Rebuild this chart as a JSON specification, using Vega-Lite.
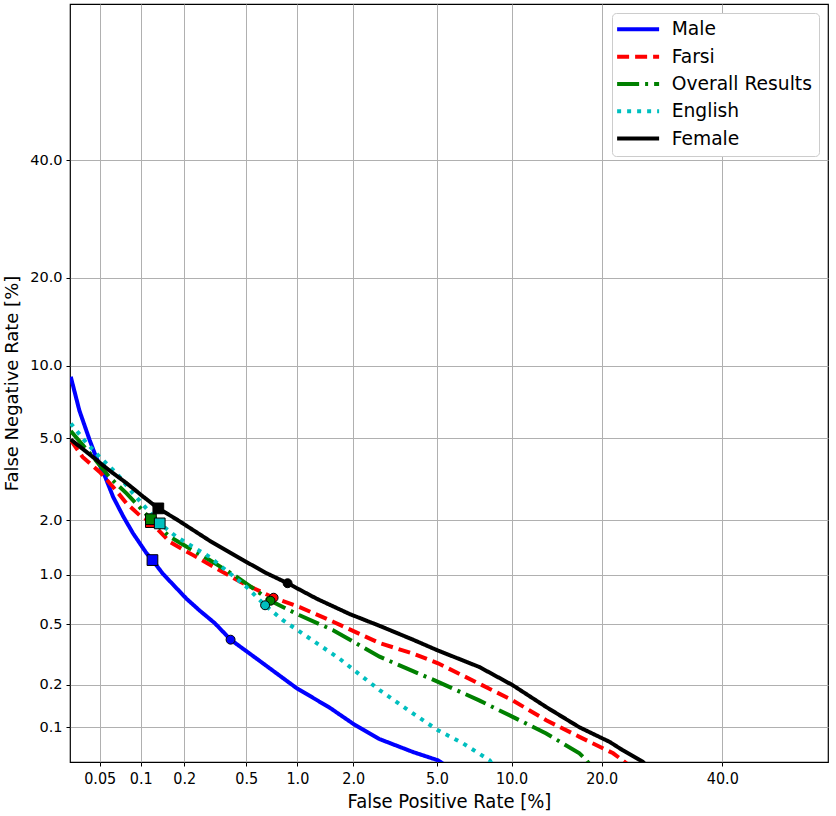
{
  "$schema": "https://vega.github.io/schema/vega-lite/v6.json",
  "width": 758,
  "height": 758,
  "autosize": {"type": "none"},
  "padding": {"left": 70, "top": 4, "right": 8, "bottom": 54},
  "background": "white",
  "config": {
    "view": {"stroke": "#000000", "strokeWidth": 1.2},
    "axis": {"grid": true, "gridColor": "#b0b0b0", "gridWidth": 1, "tickColor": "#000000", "tickSize": 4, "domain": false, "labelColor": "#000000", "titleColor": "#000000", "titleFontWeight": "normal"}
  },
  "datasets": {
    "curves": [
      {"series": "Male", "fpr": 0.030, "fnr": 9.05},
      {"series": "Male", "fpr": 0.035, "fnr": 6.6},
      {"series": "Male", "fpr": 0.042, "fnr": 4.9},
      {"series": "Male", "fpr": 0.047, "fnr": 4.1},
      {"series": "Male", "fpr": 0.055, "fnr": 3.3},
      {"series": "Male", "fpr": 0.063, "fnr": 2.63},
      {"series": "Male", "fpr": 0.075, "fnr": 2.08},
      {"series": "Male", "fpr": 0.088, "fnr": 1.70},
      {"series": "Male", "fpr": 0.110, "fnr": 1.32},
      {"series": "Male", "fpr": 0.121, "fnr": 1.21},
      {"series": "Male", "fpr": 0.143, "fnr": 1.01},
      {"series": "Male", "fpr": 0.207, "fnr": 0.72},
      {"series": "Male", "fpr": 0.253, "fnr": 0.61},
      {"series": "Male", "fpr": 0.317, "fnr": 0.51},
      {"series": "Male", "fpr": 0.40, "fnr": 0.40},
      {"series": "Male", "fpr": 0.525, "fnr": 0.325},
      {"series": "Male", "fpr": 0.99, "fnr": 0.19},
      {"series": "Male", "fpr": 1.5, "fnr": 0.139},
      {"series": "Male", "fpr": 2.0, "fnr": 0.106},
      {"series": "Male", "fpr": 2.7, "fnr": 0.082},
      {"series": "Male", "fpr": 3.9, "fnr": 0.0655},
      {"series": "Male", "fpr": 5.05, "fnr": 0.0566},
      {"series": "Male", "fpr": 5.6, "fnr": 0.05},
      {"series": "Farsi", "fpr": 0.030, "fnr": 4.90},
      {"series": "Farsi", "fpr": 0.037, "fnr": 4.11},
      {"series": "Farsi", "fpr": 0.050, "fnr": 3.49},
      {"series": "Farsi", "fpr": 0.063, "fnr": 2.95},
      {"series": "Farsi", "fpr": 0.079, "fnr": 2.44},
      {"series": "Farsi", "fpr": 0.098, "fnr": 2.12},
      {"series": "Farsi", "fpr": 0.118, "fnr": 1.95},
      {"series": "Farsi", "fpr": 0.159, "fnr": 1.53},
      {"series": "Farsi", "fpr": 0.229, "fnr": 1.29},
      {"series": "Farsi", "fpr": 0.456, "fnr": 0.91},
      {"series": "Farsi", "fpr": 0.73, "fnr": 0.73},
      {"series": "Farsi", "fpr": 1.03, "fnr": 0.64},
      {"series": "Farsi", "fpr": 1.57, "fnr": 0.52},
      {"series": "Farsi", "fpr": 2.71, "fnr": 0.38},
      {"series": "Farsi", "fpr": 3.9, "fnr": 0.325},
      {"series": "Farsi", "fpr": 5.05, "fnr": 0.28},
      {"series": "Farsi", "fpr": 7.5, "fnr": 0.204},
      {"series": "Farsi", "fpr": 10.1, "fnr": 0.156},
      {"series": "Farsi", "fpr": 13.3, "fnr": 0.1125},
      {"series": "Farsi", "fpr": 17.1, "fnr": 0.085},
      {"series": "Farsi", "fpr": 21.6, "fnr": 0.064},
      {"series": "Farsi", "fpr": 23.3, "fnr": 0.055},
      {"series": "Farsi", "fpr": 24.3, "fnr": 0.05},
      {"series": "Overall Results", "fpr": 0.030, "fnr": 5.38},
      {"series": "Overall Results", "fpr": 0.0445, "fnr": 4.11},
      {"series": "Overall Results", "fpr": 0.059, "fnr": 3.30},
      {"series": "Overall Results", "fpr": 0.079, "fnr": 2.74},
      {"series": "Overall Results", "fpr": 0.118, "fnr": 2.02},
      {"series": "Overall Results", "fpr": 0.159, "fnr": 1.63},
      {"series": "Overall Results", "fpr": 0.294, "fnr": 1.21},
      {"series": "Overall Results", "fpr": 0.437, "fnr": 0.97},
      {"series": "Overall Results", "fpr": 0.70, "fnr": 0.70},
      {"series": "Overall Results", "fpr": 1.03, "fnr": 0.57},
      {"series": "Overall Results", "fpr": 1.57, "fnr": 0.46},
      {"series": "Overall Results", "fpr": 2.71, "fnr": 0.31},
      {"series": "Overall Results", "fpr": 3.9, "fnr": 0.248},
      {"series": "Overall Results", "fpr": 5.05, "fnr": 0.21},
      {"series": "Overall Results", "fpr": 7.5, "fnr": 0.156},
      {"series": "Overall Results", "fpr": 10.1, "fnr": 0.119},
      {"series": "Overall Results", "fpr": 13.3, "fnr": 0.090},
      {"series": "Overall Results", "fpr": 17.1, "fnr": 0.064},
      {"series": "Overall Results", "fpr": 18.0, "fnr": 0.0566},
      {"series": "Overall Results", "fpr": 18.7, "fnr": 0.05},
      {"series": "English", "fpr": 0.030, "fnr": 5.81},
      {"series": "English", "fpr": 0.040, "fnr": 4.74},
      {"series": "English", "fpr": 0.050, "fnr": 4.11},
      {"series": "English", "fpr": 0.067, "fnr": 3.43},
      {"series": "English", "fpr": 0.088, "fnr": 2.74},
      {"series": "English", "fpr": 0.136, "fnr": 1.92},
      {"series": "English", "fpr": 0.177, "fnr": 1.63},
      {"series": "English", "fpr": 0.294, "fnr": 1.26},
      {"series": "English", "fpr": 0.50, "fnr": 0.85},
      {"series": "English", "fpr": 0.65, "fnr": 0.657},
      {"series": "English", "fpr": 0.83, "fnr": 0.53},
      {"series": "English", "fpr": 1.28, "fnr": 0.38},
      {"series": "English", "fpr": 1.70, "fnr": 0.30},
      {"series": "English", "fpr": 2.71, "fnr": 0.184},
      {"series": "English", "fpr": 3.9, "fnr": 0.126},
      {"series": "English", "fpr": 5.05, "fnr": 0.095},
      {"series": "English", "fpr": 6.45, "fnr": 0.076},
      {"series": "English", "fpr": 8.26, "fnr": 0.0566},
      {"series": "English", "fpr": 8.6, "fnr": 0.05},
      {"series": "Female", "fpr": 0.030, "fnr": 4.94},
      {"series": "Female", "fpr": 0.0445, "fnr": 4.1},
      {"series": "Female", "fpr": 0.059, "fnr": 3.55},
      {"series": "Female", "fpr": 0.079, "fnr": 3.08},
      {"series": "Female", "fpr": 0.104, "fnr": 2.64},
      {"series": "Female", "fpr": 0.133, "fnr": 2.30},
      {"series": "Female", "fpr": 0.177, "fnr": 2.02},
      {"series": "Female", "fpr": 0.294, "fnr": 1.55},
      {"series": "Female", "fpr": 0.478, "fnr": 1.21},
      {"series": "Female", "fpr": 0.66, "fnr": 1.02},
      {"series": "Female", "fpr": 0.88, "fnr": 0.89},
      {"series": "Female", "fpr": 1.28, "fnr": 0.72},
      {"series": "Female", "fpr": 1.92, "fnr": 0.58},
      {"series": "Female", "fpr": 2.71, "fnr": 0.49},
      {"series": "Female", "fpr": 3.9, "fnr": 0.40},
      {"series": "Female", "fpr": 5.05, "fnr": 0.34},
      {"series": "Female", "fpr": 7.5, "fnr": 0.265},
      {"series": "Female", "fpr": 10.1, "fnr": 0.199},
      {"series": "Female", "fpr": 13.3, "fnr": 0.140},
      {"series": "Female", "fpr": 17.1, "fnr": 0.100},
      {"series": "Female", "fpr": 21.1, "fnr": 0.078},
      {"series": "Female", "fpr": 23.0, "fnr": 0.0675},
      {"series": "Female", "fpr": 26.1, "fnr": 0.055},
      {"series": "Female", "fpr": 27.0, "fnr": 0.05}
    ],
    "points": [
      {"series": "Male", "kind": "Threshold", "fpr": 0.121, "fnr": 1.21},
      {"series": "Farsi", "kind": "Threshold", "fpr": 0.118, "fnr": 1.95},
      {"series": "Overall Results", "kind": "Threshold", "fpr": 0.118, "fnr": 2.02},
      {"series": "English", "kind": "Threshold", "fpr": 0.136, "fnr": 1.92},
      {"series": "Female", "kind": "Threshold", "fpr": 0.133, "fnr": 2.30},
      {"series": "Male", "kind": "EER", "fpr": 0.40, "fnr": 0.40},
      {"series": "Farsi", "kind": "EER", "fpr": 0.73, "fnr": 0.73},
      {"series": "Overall Results", "kind": "EER", "fpr": 0.70, "fnr": 0.70},
      {"series": "English", "kind": "EER", "fpr": 0.65, "fnr": 0.657},
      {"series": "Female", "kind": "EER", "fpr": 0.88, "fnr": 0.89}
    ]
  },
  "encoding": {
    "x": {
      "field": "xp", "type": "quantitative",
      "scale": {"domain": [-3.4354, 0.2622], "nice": false, "zero": false},
      "axis": {
        "title": "False Positive Rate [%]",
        "values": [-3.2905, -3.0902, -2.8782, -2.5758, -2.3263, -2.0537, -1.6449, -1.2816, -0.8416, -0.2533],
        "labelExpr": "cumulativeNormal(datum.value) * 100 < 0.07 ? format(cumulativeNormal(datum.value) * 100, '.2f') : format(cumulativeNormal(datum.value) * 100, '.1f')",
        "labelFont": "DejaVu Sans Condensed", "labelFontSize": 16, "labelPadding": 4,
        "titleFont": "DejaVu Sans Condensed", "titleFontSize": 20, "titlePadding": 5
      }
    },
    "y": {
      "field": "yp", "type": "quantitative",
      "scale": {"domain": [-3.2638, 0.5271], "nice": false, "zero": false},
      "axis": {
        "title": "False Negative Rate [%]",
        "values": [-3.0902, -2.8782, -2.5758, -2.3263, -2.0537, -1.6449, -1.2816, -0.8416, -0.2533],
        "labelExpr": "format(cumulativeNormal(datum.value) * 100, '.1f')",
        "labelFont": "DejaVu Sans", "labelFontSize": 14.5, "labelPadding": 4,
        "titleFont": "DejaVu Sans", "titleFontSize": 18, "titlePadding": 8
      }
    }
  },
  "layer": [
    {
      "data": {"name": "curves"},
      "transform": [
        {"calculate": "quantileNormal(datum.fpr / 100)", "as": "xp"},
        {"calculate": "quantileNormal(datum.fnr / 100)", "as": "yp"}
      ],
      "mark": {"type": "line", "strokeWidth": 4, "clip": true, "strokeCap": "butt"},
      "encoding": {
        "color": {
          "field": "series", "type": "nominal",
          "scale": {"domain": ["Male", "Farsi", "Overall Results", "English", "Female"], "range": ["#0000ff", "#ff0000", "#008000", "#00bfbf", "#000000"]},
          "legend": {
            "title": null, "orient": "none", "legendX": 542, "legendY": 9,
            "labelFont": "DejaVu Sans", "labelFontSize": 18.7, "labelColor": "#000000", "labelOffset": 34,
            "symbolType": "M-2.14,0H5.86", "symbolSize": 110.25, "symbolStrokeWidth": 4,
            "rowPadding": 7.3, "padding": 7, "fillColor": "white", "strokeColor": "#cccccc", "cornerRadius": 4
          }
        },
        "strokeDash": {
          "field": "series", "type": "nominal",
          "scale": {"domain": ["Male", "Farsi", "Overall Results", "English", "Female"], "range": [[1, 0], [12, 6], [22, 6, 3, 6], [4, 6], [1, 0]]},
          "legend": {
            "title": null, "orient": "none", "legendX": 542, "legendY": 9,
            "labelFont": "DejaVu Sans", "labelFontSize": 18.7, "labelColor": "#000000", "labelOffset": 34,
            "symbolType": "M-2.14,0H5.86", "symbolSize": 110.25, "symbolStrokeWidth": 4,
            "rowPadding": 7.3, "padding": 7, "fillColor": "white", "strokeColor": "#cccccc", "cornerRadius": 4
          }
        }
      }
    },
    {
      "data": {"name": "points"},
      "transform": [
        {"filter": "datum.kind === 'Threshold'"},
        {"calculate": "quantileNormal(datum.fpr / 100)", "as": "xp"},
        {"calculate": "quantileNormal(datum.fnr / 100)", "as": "yp"}
      ],
      "mark": {"type": "point", "shape": "square", "filled": true, "stroke": "#000000", "strokeWidth": 1, "size": 115, "opacity": 1},
      "encoding": {
        "fill": {
          "field": "series", "type": "nominal",
          "scale": {"domain": ["Male", "Farsi", "Overall Results", "English", "Female"], "range": ["#0000ff", "#ff0000", "#008000", "#00bfbf", "#000000"]},
          "legend": null
        }
      }
    },
    {
      "data": {"name": "points"},
      "transform": [
        {"filter": "datum.kind === 'EER'"},
        {"calculate": "quantileNormal(datum.fpr / 100)", "as": "xp"},
        {"calculate": "quantileNormal(datum.fnr / 100)", "as": "yp"}
      ],
      "mark": {"type": "point", "shape": "circle", "filled": true, "stroke": "#000000", "strokeWidth": 1, "size": 80, "opacity": 1},
      "encoding": {
        "fill": {
          "field": "series", "type": "nominal",
          "scale": {"domain": ["Male", "Farsi", "Overall Results", "English", "Female"], "range": ["#0000ff", "#ff0000", "#008000", "#00bfbf", "#000000"]},
          "legend": null
        }
      }
    }
  ]
}
